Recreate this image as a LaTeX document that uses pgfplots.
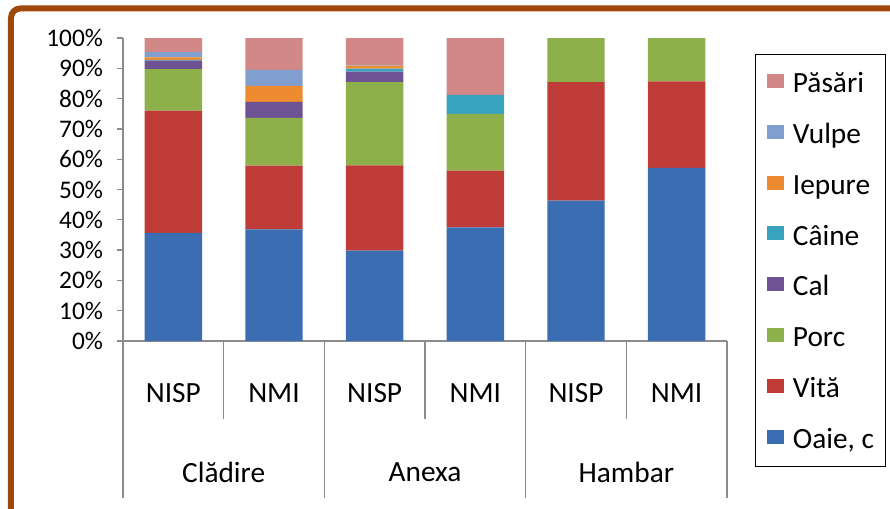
\documentclass[border=0pt]{standalone}
\usepackage{pgfplots}
\pgfplotsset{compat=1.18}
\usepackage{fontspec}
\setmainfont{Carlito}

\definecolor{coaie}{HTML}{3B6DB3}
\definecolor{cvita}{HTML}{BE3B38}
\definecolor{cporc}{HTML}{8DB04A}
\definecolor{ccal}{HTML}{6E5394}
\definecolor{ccaine}{HTML}{37A3BF}
\definecolor{ciepure}{HTML}{EE8A2F}
\definecolor{cvulpe}{HTML}{809FCF}
\definecolor{cpasari}{HTML}{D18886}
\definecolor{framebrown}{HTML}{9E480E}
\definecolor{axgray}{HTML}{8C8C8C}

\pgfplotsset{
  sq/.style={draw=none, legend image code/.code={\fill[##1] (0pt,-4pt) rectangle (12.75pt,6.5pt);}},
}

\begin{document}
\begin{tikzpicture}
% page = 890 x 508 px at 0.75pt/px, axis origin at px (123,341)
\useasboundingbox (-92.25pt,-125.25pt) rectangle (575.25pt,255.75pt);
\clip (-92.25pt,-125.25pt) rectangle (575.25pt,255.75pt);
\draw[framebrown, line width=4.5pt, rounded corners=7pt] (-84pt,-250pt) rectangle (700pt,249.4pt);

\begin{axis}[
  at={(0,0)}, anchor=south west,
  scale only axis, width=453pt, height=227.25pt,
  xmin=0, xmax=6, ymin=0, ymax=100,
  ybar stacked, bar width=0.57,
  clip=false,
  axis x line*=bottom, axis y line*=left,
  axis line style={draw=axgray, line width=1pt, -},
  tick align=outside, major tick length=4.5pt,
  y tick style={draw=axgray, line width=1pt},
  x tick style={draw=none},
  ytick={0,10,...,100},
  yticklabel={\pgfmathprintnumber{\tick}\%},
  yticklabel style={font=\fontsize{19}{19}\selectfont, xshift=-7pt},
  /pgf/number format/assume math mode=true,
  xtick={0.5,1.5,2.5,3.5,4.5,5.5},
  xticklabels={NISP,NMI,NISP,NMI,NISP,NMI},
  xticklabel style={font=\fontsize{22}{22}\selectfont, anchor=center, yshift=-34.5pt},
  extra x ticks={1,3,5},
  extra x tick labels={Clădire,Anexa,Hambar},
  extra x tick style={xticklabel style={yshift=-59.25pt}},
  legend style={at={(1,1)}, anchor=north west, xshift=21pt, yshift=-12pt,
    draw=black, line width=0.9pt,
    font=\fontsize{22}{22}\selectfont,
    inner xsep=8.5pt, inner ysep=12pt, row sep=20.1pt,
    nodes={inner sep=0pt, text height=16.5pt, text depth=1.5pt},
    /tikz/every odd column/.append style={column sep=6.75pt},
    cells={anchor=west}},
  reverse legend,
]
\addplot[sq, fill=coaie] coordinates {(0.5,35.7) (1.5,36.84) (2.5,29.8) (3.5,37.5) (4.5,46.3) (5.5,57.14)};
\addlegendentry{Oaie, c}
\addplot[sq, fill=cvita] coordinates {(0.5,40.3) (1.5,21.05) (2.5,28.2) (3.5,18.75) (4.5,39.1) (5.5,28.57)};
\addlegendentry{Vită}
\addplot[sq, fill=cporc] coordinates {(0.5,13.7) (1.5,15.79) (2.5,27.4) (3.5,18.75) (4.5,14.6) (5.5,14.29)};
\addlegendentry{Porc}
\addplot[sq, fill=ccal] coordinates {(0.5,2.8) (1.5,5.26) (2.5,3.5) (3.5,0) (4.5,0) (5.5,0)};
\addlegendentry{Cal}
\addplot[sq, fill=ccaine] coordinates {(0.5,0.3) (1.5,0) (2.5,1.0) (3.5,6.25) (4.5,0) (5.5,0)};
\addlegendentry{Câine}
\addplot[sq, fill=ciepure] coordinates {(0.5,0.8) (1.5,5.26) (2.5,1.0) (3.5,0) (4.5,0) (5.5,0)};
\addlegendentry{Iepure}
\addplot[sq, fill=cvulpe] coordinates {(0.5,1.7) (1.5,5.26) (2.5,0.2) (3.5,0) (4.5,0) (5.5,0)};
\addlegendentry{Vulpe}
\addplot[sq, fill=cpasari] coordinates {(0.5,4.7) (1.5,10.53) (2.5,8.9) (3.5,18.75) (4.5,0) (5.5,0)};
\addlegendentry{Păsări}

\pgfplotsinvokeforeach{0,2,4,6}{\draw[axgray, line width=1pt] (axis cs:#1,0) -- ++(0pt,-117.75pt);}
\pgfplotsinvokeforeach{1,3,5}{\draw[axgray, line width=1pt] (axis cs:#1,0) -- ++(0pt,-58.5pt);}
\end{axis}
\end{tikzpicture}
\end{document}
